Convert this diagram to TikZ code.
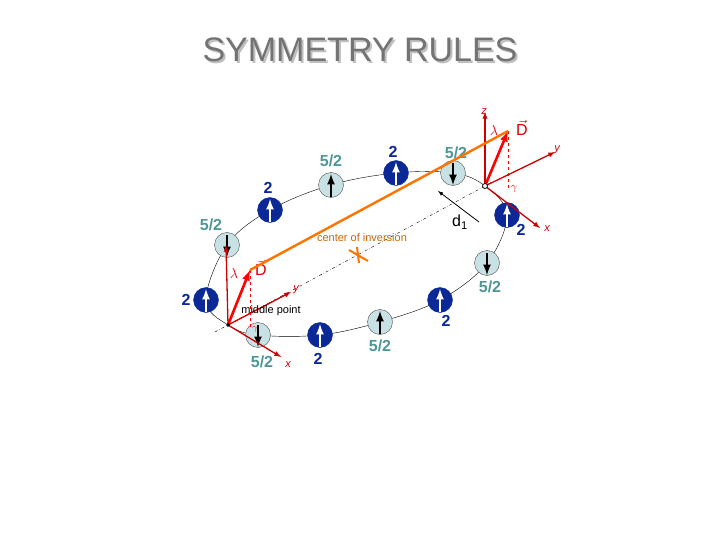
\documentclass[tikz,border=0pt]{standalone}
\usepackage{fontspec}
\setmainfont{Liberation Sans}
\begin{document}
\begin{tikzpicture}[x=1pt,y=-1pt,
  lite/.style={circle,draw=black!70,fill={rgb,255:red,200;green,225;blue,228},minimum size=25pt,inner sep=0pt},
  dark/.style={circle,draw={rgb,255:red,10;green,40;blue,150},fill={rgb,255:red,10;green,40;blue,150},minimum size=25pt,inner sep=0pt},
  labl/.style={font=\bfseries\fontsize{16}{16}\selectfont,text={rgb,255:red,80;green,150;blue,150}},
  labd/.style={font=\bfseries\fontsize{16}{16}\selectfont,text={rgb,255:red,10;green,40;blue,150}},
  ax/.style={red!80!black,line width=1.3pt,-latex},
  dv/.style={red,line width=2.6pt,-latex},
  small/.style={font=\fontsize{11}{11}\selectfont}]
\useasboundingbox (0,0) rectangle (720,540);
\node[font=\fontsize{34}{34}\selectfont,text=black!25] (ts) at (362,52) {SYMMETRY RULES};
\node[font=\fontsize{34}{34}\selectfont,text=black!55] (t) at (360,50) {SYMMETRY RULES};
\coordinate (O1) at (228,325);
\coordinate (O2) at (485,186);
\draw[thin] plot[smooth cycle,tension=0.6] coordinates {(227,245) (270,210) (331,185) (396,173) (453,173) (485,186) (507,215) (487,263) (440,300) (380,322) (320,335) (258,335) (228,325) (206,300)};
\draw[dash dot,thin] (215,332) -- (O1) -- (O2) -- (492,182);
\node[lite] (s1) at (227,245) {}; \draw[line width=2.5pt,-latex] (227,235) -- (227,257);
\node[dark] (s2) at (270,210) {}; \draw[white,line width=2.5pt,-latex] (270,222) -- (270,199);
\node[lite] (s3) at (331,185) {}; \draw[line width=2.5pt,-latex] (331,197) -- (331,174);
\node[dark] (s4) at (396,173) {}; \draw[white,line width=2.5pt,-latex] (396,185) -- (396,162);
\node[lite] (s5) at (453,173) {}; \draw[line width=2.5pt,-latex] (453,163) -- (453,185);
\node[dark] (s6) at (507,215) {}; \draw[white,line width=2.5pt,-latex] (507,227) -- (507,204);
\node[lite] (s7) at (487,263) {}; \draw[line width=2.5pt,-latex] (487,253) -- (487,275);
\node[dark] (s8) at (440,300) {}; \draw[white,line width=2.5pt,-latex] (440,312) -- (440,289);
\node[lite] (s9) at (380,322) {}; \draw[line width=2.5pt,-latex] (380,334) -- (380,311);
\node[dark] (s10) at (320,335) {}; \draw[white,line width=2.5pt,-latex] (320,347) -- (320,324);
\node[lite] (s11) at (258,335) {}; \draw[line width=2.5pt,-latex] (258,325) -- (258,347);
\node[dark] (s12) at (206,300) {}; \draw[white,line width=2.5pt,-latex] (206,312) -- (206,289);
\node[labl] at (211,225) {5/2};
\node[labd] at (268,188) {2};
\node[labl] at (331,161) {5/2};
\node[labd] at (393,152) {2};
\node[labl] at (456,153) {5/2};
\node[labd] at (521,230) {2};
\node[labl] at (490,287) {5/2};
\node[labd] at (446,321) {2};
\node[labl] at (380,346) {5/2};
\node[labd] at (318,359) {2};
\node[labl] at (262,362) {5/2};
\node[labd] at (186,300) {2};
% right frame
\coordinate (z2) at (485,112); \coordinate (y2) at (555,152); \coordinate (x2) at (540,228); \coordinate (D2) at (508,131);
\draw[red,dashed,thin] (D2) -- (508,190);
\draw[ax] (O2) -- (z2); \draw[ax] (O2) -- (y2); \draw[ax] (O2) -- (x2);
\draw[dv] (O2) -- (D2);
\draw[fill=white,thick] (O2) circle (2.5);
\node[red!80!black,font=\itshape\fontsize{11}{11}\selectfont] at (484,112) {z};
\node[red!80!black,font=\itshape\fontsize{11}{11}\selectfont] at (557,150) {y};
\node[red!80!black,font=\itshape\fontsize{11}{11}\selectfont] at (547,229) {x};
\node[red!85!black,font=\fontsize{14}{14}\selectfont] at (494,131) {$\lambda$};
\node[red!85!black,font=\fontsize{16}{16}\selectfont] at (522,128) {$\vec{\mathrm{D}}$};
\node[red!85!black,font=\fontsize{11}{11}\selectfont] at (514,189) {$\gamma$};
% left frame
\coordinate (z1) at (226,245); \coordinate (y1) at (291,292); \coordinate (x1) at (281,357); \coordinate (D1) at (250,270);
\draw[red,dashed,thin] (D1) -- (250,328);
\draw[ax] (O1) -- (z1); \draw[ax] (O1) -- (y1); \draw[ax] (O1) -- (x1);
\draw[dv] (O1) -- (D1);
\draw[fill=black] (O1) circle (1.5);
\node[red!80!black,font=\itshape\fontsize{11}{11}\selectfont] at (296,290) {y};
\node[red!80!black,font=\itshape\fontsize{11}{11}\selectfont] at (288,365) {x};
\node[red!85!black,font=\fontsize{14}{14}\selectfont] at (234,273) {$\lambda$};
\node[red!85!black,font=\fontsize{16}{16}\selectfont] at (261,268) {$\vec{\mathrm{D}}$};
\node[red!85!black,font=\fontsize{9}{9}\selectfont] at (255,329) {$\gamma$};
\node[small] (mp) at (271,311) {middle point};
% orange
\draw[orange!90!red,line width=2.4pt] (D1) -- (D2);
\node[small,text=orange!80!black] (ci) at (362,238) {center of inversion};
\draw[orange!90!red,line width=2pt] (349,250) -- (368,261) (357,247) -- (359,263);
% d1
\draw[-latex,thick] (479,222) -- (438,191);
\node[font=\fontsize{16}{16}\selectfont] (d1) at (460,222) {d\textsubscript{1}};
\end{tikzpicture}
\end{document}
